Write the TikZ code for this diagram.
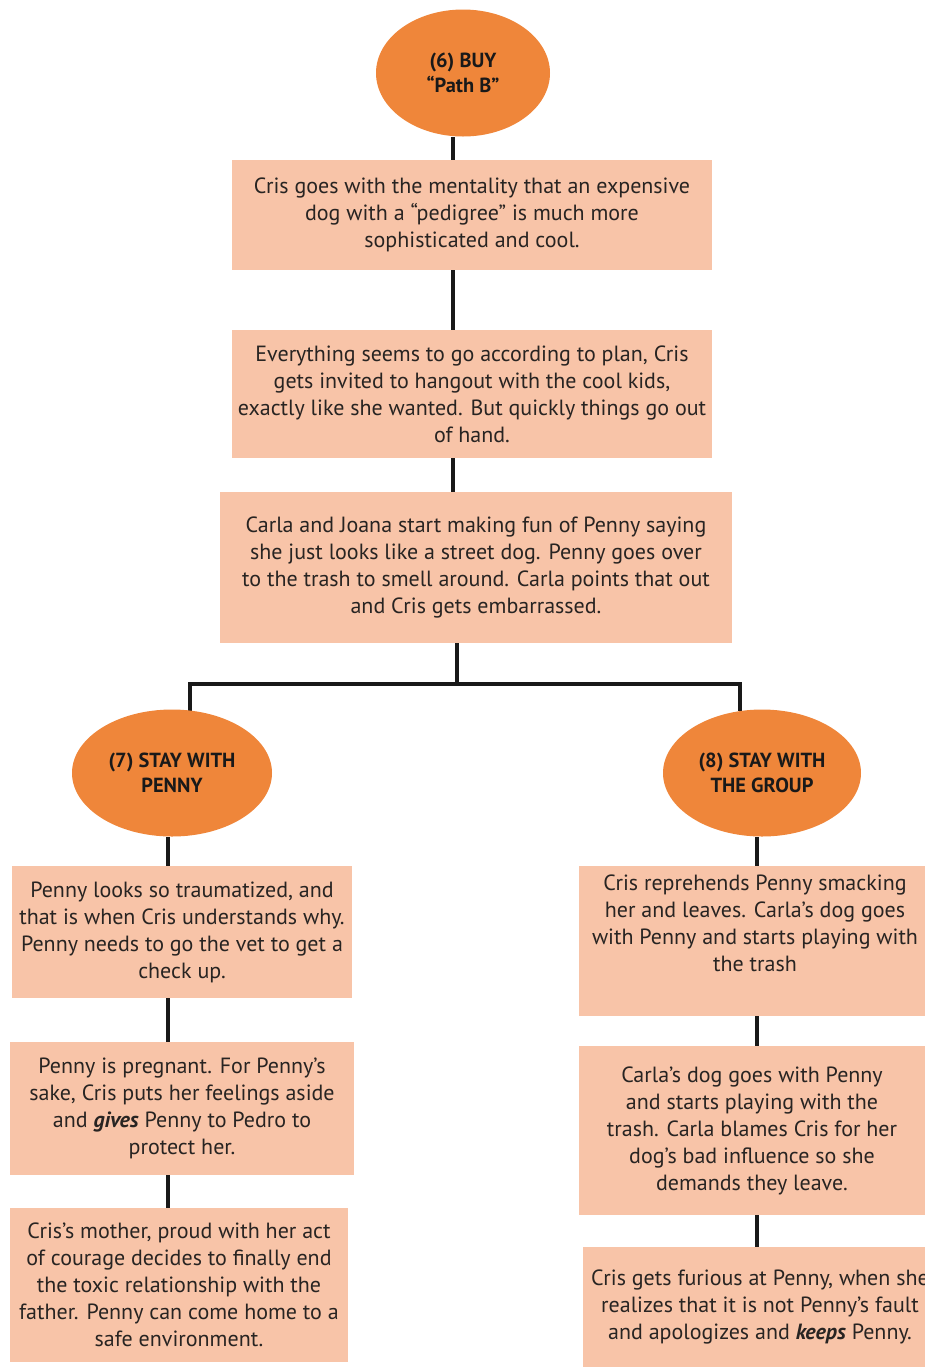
\documentclass[tikz,border=0pt]{standalone}
\usepackage{fontspec}
\setmainfont{PT Sans}
\usepackage{xcolor}
\usepackage{tikz}
\usetikzlibrary{shapes.geometric, backgrounds, calc}
\definecolor{pathorange}{RGB}{239,134,58}
\definecolor{peach}{RGB}{248,196,168}
\definecolor{inktext}{RGB}{40,36,34}
\tikzstyle{choice} = [ellipse, fill=pathorange, inner sep=0pt, align=center, font=\fontsize{10.2}{12.5}\selectfont\bfseries, text=black!90]
\tikzstyle{event} = [rectangle, fill=peach, inner sep=0pt, align=center, font=\fontsize{11}{13.5}\selectfont, text=inktext]
\tikzstyle{link} = [line width=2pt, draw=black!90]

\begin{document}
\begin{tikzpicture}[x=0.5pt, y=-0.5pt]
    \useasboundingbox (0,0) rectangle (925,1367);
    \clip (0,0) rectangle (925,1367);

    % === TOP: Path B ===
    \node[choice, minimum width=87pt, minimum height=63.5pt] (buy) at (463,73) {(6) BUY\\“Path B”};
    \node[event, minimum width=240pt, minimum height=55pt] (mentality) at (472,215) {Cris goes with the mentality that an expensive\\dog with a “pedigree” is much more\\sophisticated and cool.};
    \node[event, minimum width=240pt, minimum height=64pt] (coolkids) at (472,394) {Everything seems to go according to plan, Cris\\gets invited to hangout with the cool kids,\\exactly like she wanted. But quickly things go out\\of hand.};
    \node[event, minimum width=256pt, minimum height=75.5pt] (streetdog) at (476,567.5) {Carla and Joana start making fun of Penny saying\\she just looks like a street dog. Penny goes over\\to the trash to smell around. Carla points that out\\and Cris gets embarrassed.};

    % === CHOICES ===
    \node[choice, minimum width=100pt, minimum height=63.5pt] (stay) at (172,773) {(7) STAY WITH\\PENNY};
    \node[choice, minimum width=99pt, minimum height=63.5pt] (group) at (762,773) {(8) STAY WITH\\THE GROUP};

    % === LEFT: stay with Penny ===
    \node[event, minimum width=170pt, minimum height=66pt] (vet) at (182,932) {Penny looks so traumatized, and\\that is when Cris understands why.\\Penny needs to go the vet to get a\\check up.};
    \node[event, minimum width=172pt, minimum height=66.5pt] (pregnant) at (182,1108.5) {Penny is pregnant. For Penny’s\\sake, Cris puts her feelings aside\\and \textbf{\textit{gives}} Penny to Pedro to\\protect her.};
    \node[event, minimum width=169pt, minimum height=77pt] (mother) at (179,1285) {Cris’s mother, proud with her act\\of courage decides to finally end\\the toxic relationship with the\\father. Penny can come home to a\\safe environment.};

    % === RIGHT: stay with the group (runs off the page edge) ===
    \node[event, minimum width=176pt, minimum height=75pt] (smack) at (755,941) {Cris reprehends Penny smacking\\her and leaves. Carla’s dog goes\\with Penny and starts playing with\\the trash\\\strut};
    \node[event, minimum width=173pt, minimum height=84.5pt] (blame) at (752,1130.5) {Carla’s dog goes with Penny\\and starts playing with the\\trash. Carla blames Cris for her\\dog’s bad influence so she\\demands they leave.};
    \node[event, minimum width=177pt, minimum height=60pt] (keeps) at (760,1307) {Cris gets furious at Penny, when she\\realizes that it is not Penny's fault\\and apologizes and \textbf{\textit{keeps}} Penny.};

    % ===== LINKS =====
    \coordinate (spine) at (453,0);
    \coordinate (fork) at (457,684);
    \coordinate (leftspine) at (168,0);
    \coordinate (rightspine) at (757,0);
    \begin{scope}[on background layer]
        % main column
        \draw[link] (buy.south -| spine) -- (mentality.north -| spine);
        \draw[link] (mentality.south -| spine) -- (coolkids.north -| spine);
        \draw[link] (coolkids.south -| spine) -- (streetdog.north -| spine);

        % split into the two choices
        \draw[link] (streetdog.south -| fork) -- (fork);
        \draw[link] ($(stay.north)+(18,2)$) |- (fork) -| ($(group.north)+(-22,2)$);

        % left column
        \draw[link] (stay.south -| leftspine) -- (vet.north -| leftspine);
        \draw[link] (vet.south -| leftspine) -- (pregnant.north -| leftspine);
        \draw[link] (pregnant.south -| leftspine) -- (mother.north -| leftspine);

        % right column
        \draw[link] (group.south -| rightspine) -- (smack.north -| rightspine);
        \draw[link] (smack.south -| rightspine) -- (blame.north -| rightspine);
        \draw[link] (blame.south -| rightspine) -- (keeps.north -| rightspine);
    \end{scope}
\end{tikzpicture}
\end{document}
